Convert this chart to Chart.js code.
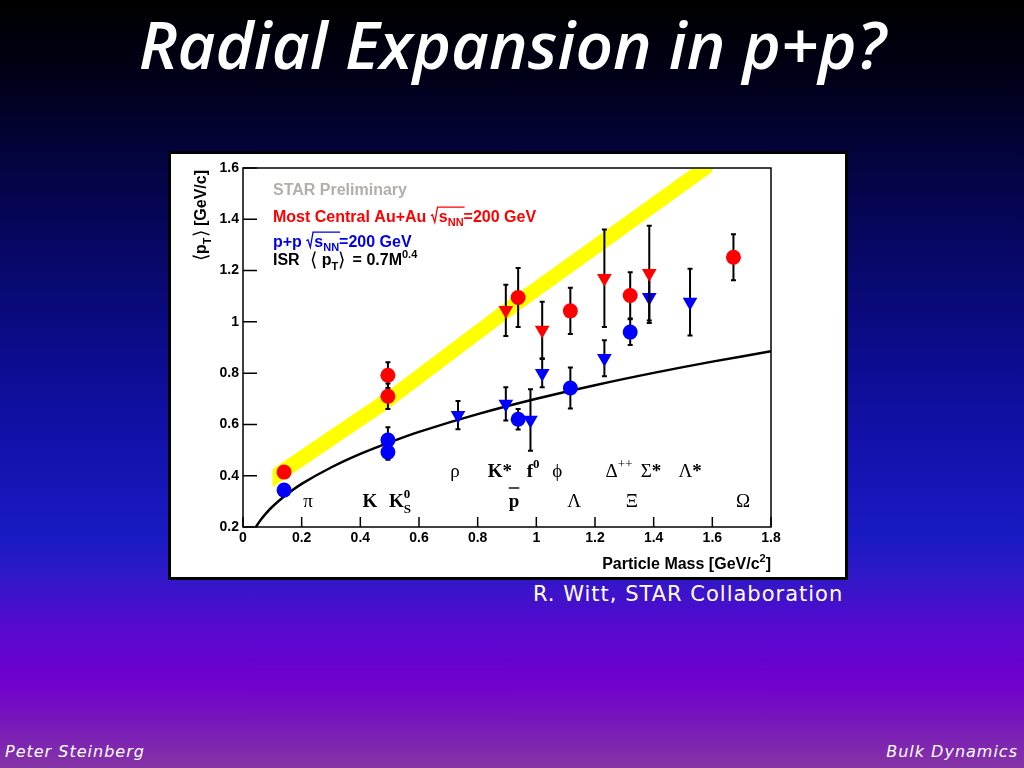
<!DOCTYPE html>
<html lang="en">
<head>
  <meta charset="UTF-8">
  <title>Radial Expansion in p+p?</title>
  <script src="https://cdn.jsdelivr.net/npm/chart.js"></script>
  <style>
    html, body { margin: 0; padding: 0; }
    body {
      width: 1024px; height: 768px; position: relative; overflow: hidden;
      background: linear-gradient(to bottom, #000000 0%, #000018 10%, #03033c 20%, #06065e 30%, #0c0c90 47%,
        #1212ac 58%, #1a1ac4 70%, #3018c8 75%, #5808d0 82%, #7000cc 89%, #7a1cb8 95%, #8535a5 100%);
    }
    h1 {
      position: absolute; left: 0; top: 10px; width: 1024px; margin: 0;
      text-align: center; color: #fff; font: italic 600 66px/66px "Open Sans", sans-serif;
    }
    h1 span { display: inline-block; transform-origin: center; }
    .box {
      position: absolute; left: 168px; top: 151px; width: 680px; height: 429px;
      box-sizing: border-box; border: 3px solid #000; background: #fff;
    }
    .credit { position: absolute; left: 533px; top: 584px; color: #fff; letter-spacing: 1px;
      font: 21px/21px "DejaVu Sans", sans-serif; }
    .foot { position: absolute; top: 744px; color: #fff; letter-spacing: 1px;
      font: oblique 16px/16px "DejaVu Sans", sans-serif; }
  </style>
</head>
<body>
  <h1><span id="title">Radial Expansion in p+p?</span></h1>
  <div class="box">
    <canvas id="ptChart" width="674" height="423"></canvas>
  </div>
  <div class="credit">R. Witt, STAR Collaboration</div>
  <div class="foot" style="left:5px">Peter Steinberg</div>
  <div class="foot" style="right:6px">Bulk Dynamics</div>
  <script>
    // axis ticks
    const xTicks = [0, 0.2, 0.4, 0.6, 0.8, 1.0, 1.2, 1.4, 1.6, 1.8];
    const yTicks = [0.2, 0.4, 0.6, 0.8, 1.0, 1.2, 1.4, 1.6];

    // Au+Au most central (red)
    const auMassCirc = [0.14, 0.494, 0.494, 0.938, 1.116, 1.32, 1.672];
    const auPtCirc   = [0.414, 0.792, 0.71, 1.095, 1.043, 1.103, 1.252];
    const auErrCirc  = [0.015, 0.05, 0.05, 0.115, 0.09, 0.09, 0.09];
    const auMassTri  = [0.896, 1.02, 1.232, 1.385];
    const auPtTri    = [1.045, 0.968, 1.17, 1.19];
    const auErrTri   = [0.1, 0.11, 0.19, 0.185];

    // p+p (blue)
    const ppMassCirc = [0.14, 0.494, 0.494, 0.938, 1.116, 1.32];
    const ppPtCirc   = [0.344, 0.539, 0.492, 0.62, 0.742, 0.96];
    const ppErrCirc  = [0.015, 0.05, 0.03, 0.04, 0.08, 0.05];
    const ppMassTri  = [0.733, 0.896, 0.98, 1.02, 1.232, 1.385, 1.524];
    const ppPtTri    = [0.636, 0.68, 0.617, 0.80, 0.858, 1.096, 1.077];
    const ppErrTri   = [0.055, 0.065, 0.12, 0.055, 0.07, 0.1, 0.13];

    // ISR curve
    const isrMass = [0.044, 0.06, 0.08, 0.1, 0.14, 0.2, 0.3, 0.4, 0.5, 0.6, 0.8, 1.0, 1.2, 1.4, 1.6, 1.8];
    const isrPt   = [0.20, 0.227, 0.255, 0.279, 0.319, 0.368, 0.432, 0.485, 0.53, 0.571, 0.64, 0.70, 0.753, 0.801, 0.845, 0.885];

    // yellow band
    const bandMass = [0.1, 0.5, 0.9, 1.6];
    const bandLow  = [0.355, 0.665, 1.01, 1.585];
    const bandHigh = [0.425, 0.735, 1.08, 1.655];

    // particle names under the points: [mass position, row, parts]
    const particleLabels = [
      [0.723, 0, [{t: 'ρ', g: 1}]],
      [0.876, 0, ['K*']],
      [0.989, 0, ['f', {t: '0', sup: 1}]],
      [1.071, 0, [{t: 'ϕ', g: 1}]],
      [1.282, 0, [{t: 'Δ', g: 1}, {t: '++', sup: 1, g: 1}]],
      [1.391, 0, [{t: 'Σ', g: 1}, '*']],
      [1.524, 0, [{t: 'Λ', g: 1}, '*']],
      [0.222, 1, [{t: 'π', g: 1}]],
      [0.433, 1, ['K']],
      [0.535, 1, ['K', {t: '0', sup: 1}, {t: 'S', sub: 1, back: 1}]],
      [0.924, 1, [{t: 'p', over: 1}]],
      [1.129, 1, [{t: 'Λ', g: 1}]],
      [1.326, 1, [{t: 'Ξ', g: 1}]],
      [1.705, 1, [{t: 'Ω', g: 1}]]
    ];
    const labelRows = [0.395, 0.278];

    const pts = (xs, ys) => xs.map((x, i) => ({x: x, y: ys[i]}));
    const fmt = v => (Math.abs(v) < 1e-9 ? '0' : Math.abs(v - 1) < 1e-9 ? '1' : v.toFixed(1));
    const SANS = '"Liberation Sans", Arial, sans-serif';
    const SERIF = '"Liberation Serif", "Times New Roman", serif';

    // draw a run of text pieces with sub/superscripts, overlines, gaps and root signs
    function drawParts(ctx, x, y, parts, size, family, opts) {
      opts = opts || {};
      const segs = parts.map(p => (typeof p === 'string' ? {t: p} : p));
      let cx = 0, prevStart = 0;
      segs.forEach(s => {
        let fs = (s.sub || s.sup) ? Math.round(size * 0.68) : size;
        if (s.big) fs = Math.round(size * 1.2);
        const weight = s.g ? '' : 'bold ';
        s.font = weight + fs + 'px ' + family;
        ctx.font = s.font;
        if (s.root) s.w = size * 0.5;
        else if (s.gap) s.w = s.gap;
        else s.w = ctx.measureText(s.t).width;
        if (s.back) cx = prevStart;
        s.x = cx;
        prevStart = cx;
        cx += s.w;
      });
      const total = segs.reduce((m, s) => Math.max(m, s.x + s.w), 0);
      let x0 = x;
      if (opts.align === 'center') x0 = x - total / 2;
      if (opts.align === 'right') x0 = x - total;
      ctx.textBaseline = 'alphabetic';
      ctx.textAlign = 'left';
      let overA = null, overB = null, rootX = null;
      segs.forEach(s => {
        const sx = x0 + s.x;
        if (s.root) { rootX = sx; return; }
        if (s.gap) return;
        let dy = 0;
        if (s.sub) dy = size * 0.3;
        if (s.sup) dy = -size * 0.45;
        if (s.big) dy = size * 0.08;
        ctx.font = s.font;
        ctx.fillText(s.t, sx, y + dy);
        if (s.over) {
          if (overA === null) overA = sx;
          overB = sx + s.w;
        }
      });
      ctx.lineWidth = opts.lineWidth || 1.3;
      ctx.strokeStyle = ctx.fillStyle;
      if (rootX !== null) {
        const top = y - size * 0.9;
        ctx.beginPath();
        ctx.moveTo(rootX, y - size * 0.36);
        ctx.lineTo(rootX + size * 0.1, y - size * 0.42);
        ctx.lineTo(rootX + size * 0.25, y + size * 0.05);
        ctx.lineTo(rootX + size * 0.42, top);
        ctx.lineTo(overB + 1, top);
        ctx.stroke();
      } else if (overA !== null) {
        const top = y - size * (opts.overOff || 1.0);
        ctx.beginPath();
        ctx.moveTo(overA, top);
        ctx.lineTo(overB, top);
        ctx.stroke();
      }
      return total;
    }

    const errorBars = {
      id: 'errorBars',
      beforeDatasetDraw(chart, args) {
        const ds = chart.data.datasets[args.index];
        if (!ds.errors) return;
        const ctx = chart.ctx, ys = chart.scales.y;
        ctx.save();
        ctx.strokeStyle = '#000';
        ctx.lineWidth = 2;
        args.meta.data.forEach((pt, i) => {
          const v = ds.data[i].y, e = ds.errors[i];
          const top = ys.getPixelForValue(v + e), bot = ys.getPixelForValue(v - e);
          ctx.beginPath();
          ctx.moveTo(pt.x, top); ctx.lineTo(pt.x, bot);
          ctx.moveTo(pt.x - 2.5, top); ctx.lineTo(pt.x + 2.5, top);
          ctx.moveTo(pt.x - 2.5, bot); ctx.lineTo(pt.x + 2.5, bot);
          ctx.stroke();
        });
        ctx.restore();
      }
    };

    const frameAndText = {
      id: 'frameAndText',
      afterDatasetsDraw(chart) {
        const ctx = chart.ctx, a = chart.chartArea, xs = chart.scales.x, ys = chart.scales.y;
        ctx.save();
        ctx.strokeStyle = '#000';
        ctx.lineWidth = 1.5;
        ctx.strokeRect(a.left, a.top, a.right - a.left, a.bottom - a.top);
        ctx.beginPath();
        yTicks.forEach(v => { const p = ys.getPixelForValue(v); ctx.moveTo(a.left, p); ctx.lineTo(a.left + 14, p); });
        xTicks.forEach(v => { const p = xs.getPixelForValue(v); ctx.moveTo(p, a.bottom); ctx.lineTo(p, a.bottom - 10); });
        ctx.stroke();

        // legend text
        const lx = a.left + 30;
        ctx.fillStyle = '#b3aeac';
        drawParts(ctx, lx, a.top + 27, ['STAR Preliminary'], 16, SANS);
        ctx.fillStyle = '#ff0000';
        drawParts(ctx, lx, a.top + 53.5, ['Most Central Au+Au ', {root: 1}, {t: 's', over: 1}, {t: 'NN', sub: 1, over: 1}, '=200 GeV'], 16, SANS);
        ctx.fillStyle = '#0000ee';
        drawParts(ctx, lx, a.top + 78.5, ['p+p ', {root: 1}, {t: 's', over: 1}, {t: 'NN', sub: 1, over: 1}, '=200 GeV'], 16, SANS);
        ctx.fillStyle = '#000';
        drawParts(ctx, lx, a.top + 97, ['ISR', {gap: 10}, {t: '⟨', g: 1, big: 1}, {gap: 5}, 'p', {t: 'T', sub: 1},
          {t: '⟩', g: 1, big: 1}, {gap: 3}, ' = 0.7M', {t: '0.4', sup: 1}], 16, SANS);

        // particle names
        particleLabels.forEach(l => {
          const px = xs.getPixelForValue(l[0]);
          const py = ys.getPixelForValue(labelRows[l[1]]);
          drawParts(ctx, px, py, l[2], 19, SERIF, {align: 'center', overOff: 1.0, lineWidth: 1.4});
        });

        // x title
        drawParts(ctx, a.right, a.bottom + 42, ['Particle Mass [GeV/c', {t: '2', sup: 1}, ']'], 16, SANS, {align: 'right'});

        // y title, rotated
        ctx.translate(a.left - 37, a.top + 2);
        ctx.rotate(-Math.PI / 2);
        drawParts(ctx, 0, 0, [{t: '⟨', g: 1, big: 1}, 'p', {t: 'T', sub: 1}, {t: '⟩', g: 1, big: 1}, ' [GeV/c]'], 16, SANS, {align: 'right'});
        ctx.restore();
      }
    };

    const ctx = document.getElementById('ptChart').getContext('2d');
    const ptChart = new Chart(ctx, {
      type: 'scatter',
      data: {
        datasets: [
          { label: 'Au+Au circles', data: pts(auMassCirc, auPtCirc), errors: auErrCirc, order: 0,
            backgroundColor: '#ff0000', borderColor: '#ff0000', pointRadius: 7.5, pointBorderWidth: 0 },
          { label: 'Au+Au triangles', data: pts(auMassTri, auPtTri), errors: auErrTri, order: 0,
            backgroundColor: '#ff0000', borderColor: '#ff0000', pointStyle: 'triangle', pointRotation: 180, pointRadius: 8.5, pointBorderWidth: 0 },
          { label: 'p+p circles', data: pts(ppMassCirc, ppPtCirc), errors: ppErrCirc, order: 0,
            backgroundColor: '#0000ff', borderColor: '#0000ff', pointRadius: 7.5, pointBorderWidth: 0 },
          { label: 'p+p triangles', data: pts(ppMassTri, ppPtTri), errors: ppErrTri, order: 0,
            backgroundColor: '#0000ff', borderColor: '#0000ff', pointStyle: 'triangle', pointRotation: 180, pointRadius: 8.5, pointBorderWidth: 0 },
          { label: 'ISR', type: 'line', data: pts(isrMass, isrPt), order: 1,
            borderColor: '#000', borderWidth: 2.5, pointRadius: 0, tension: 0.3, fill: false },
          { label: 'band low', type: 'line', data: pts(bandMass, bandLow), order: 2,
            borderColor: 'rgba(0,0,0,0)', borderWidth: 0, pointRadius: 0, fill: false },
          { label: 'band high', type: 'line', data: pts(bandMass, bandHigh), order: 2,
            borderColor: 'rgba(0,0,0,0)', borderWidth: 0, pointRadius: 0, fill: '-1', backgroundColor: '#ffff00' }
        ]
      },
      options: {
        responsive: false,
        animation: false,
        layout: { padding: { top: 14, right: 74, bottom: 0, left: 0 } },
        plugins: { legend: { display: false }, tooltip: { enabled: false } },
        scales: {
          x: {
            type: 'linear', min: 0, max: 1.8,
            grid: { display: false, drawTicks: false }, border: { display: false },
            ticks: { color: '#000', padding: 3, maxRotation: 0, autoSkip: false, callback: fmt,
              font: { family: SANS, weight: 'bold', size: 14 } },
            afterBuildTicks: s => { s.ticks = xTicks.map(v => ({value: v})); },
            afterFit: s => { s.height = 50; }
          },
          y: {
            type: 'linear', min: 0.2, max: 1.6,
            grid: { display: false, drawTicks: false }, border: { display: false },
            ticks: { color: '#000', padding: 4, autoSkip: false, callback: fmt,
              font: { family: SANS, weight: 'bold', size: 14 } },
            afterBuildTicks: s => { s.ticks = yTicks.map(v => ({value: v})); },
            afterFit: s => { s.width = 72; }
          }
        }
      },
      plugins: [errorBars, frameAndText]
    });

    // squeeze the title to the slide's width
    const title = document.getElementById('title');
    title.style.transform = 'scaleX(' + (747 / title.getBoundingClientRect().width) + ')';
  </script>
</body>
</html>
